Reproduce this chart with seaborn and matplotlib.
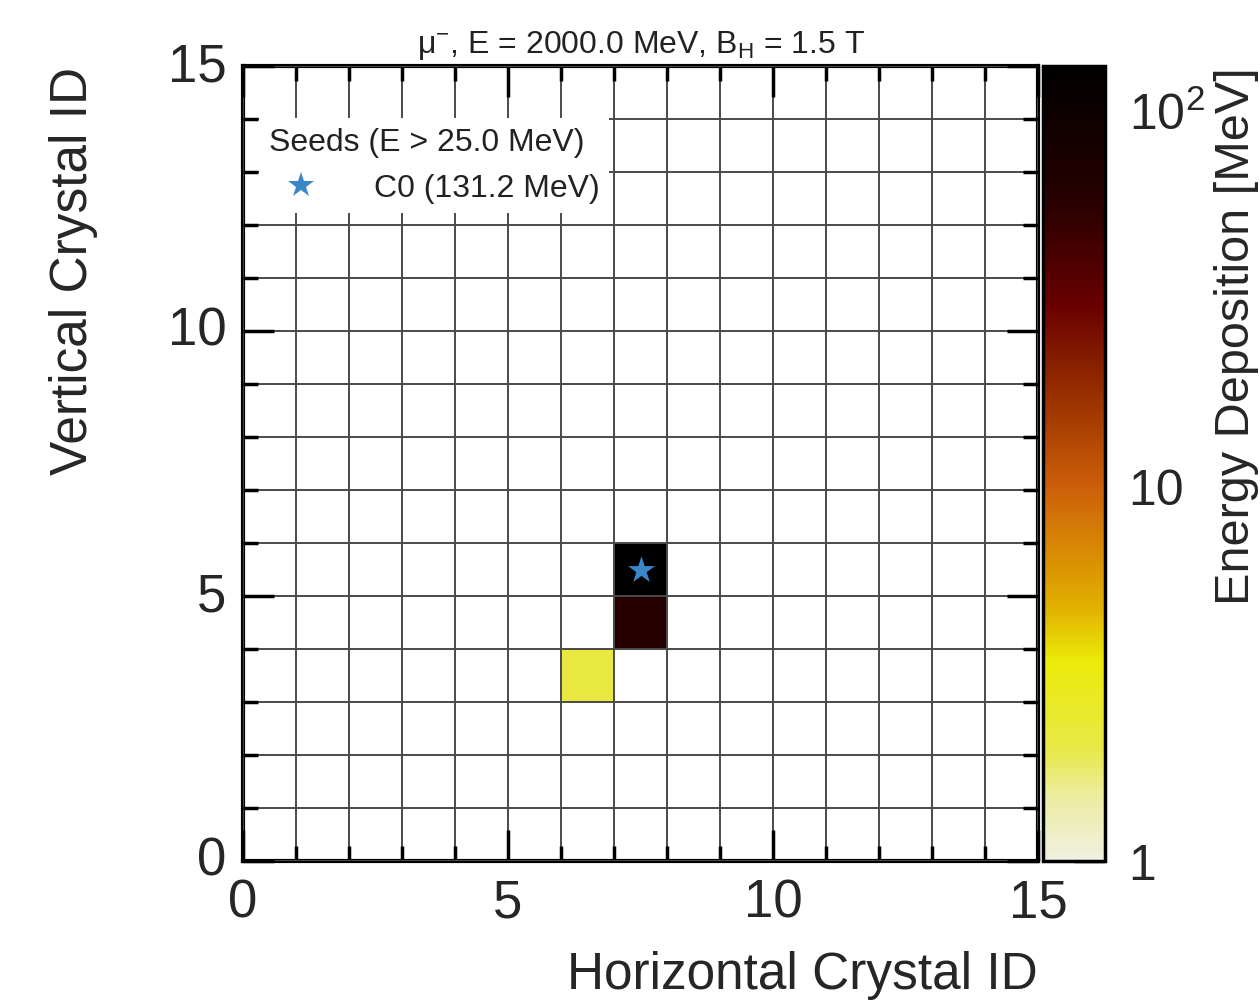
import numpy as np
import pandas as pd
import seaborn as sns
import matplotlib
matplotlib.use("Agg")
import matplotlib.pyplot as plt
from matplotlib.colors import LogNorm, LinearSegmentedColormap
from matplotlib.ticker import MultipleLocator, FixedLocator, FixedFormatter, FormatStrFormatter
from matplotlib.lines import Line2D

# ---- data ----
n_cols = 15
n_rows = 15
cell_x = [7, 7, 6]
cell_y = [5, 4, 3]
cell_energy = [131.2, 60.0, 2.1]
seed_x = [7.5]
seed_y = [5.5]
seed_labels = ["C0 (131.2 MeV)"]
title = r"μ$^{-}$, E = 2000.0 MeV, B$_{\mathrm{H}}$ = 1.5 T"
legend_title = "Seeds (E > 25.0 MeV)"
vmin, vmax = 1.0, 131.2

grid = np.full((n_rows, n_cols), np.nan)
for x, y, e in zip(cell_x, cell_y, cell_energy):
    grid[y, x] = e
df = pd.DataFrame(grid)

sns.set_theme(style="white")
plt.rcParams['font.family'] = ['Liberation Sans', 'DejaVu Sans']
plt.rcParams['mathtext.fontset'] = 'custom'
plt.rcParams['mathtext.rm'] = 'Liberation Sans'
plt.rcParams['mathtext.it'] = 'Liberation Sans:italic'
plt.rcParams['text.color'] = '#222222'

cmap = LinearSegmentedColormap.from_list("edep", [
    (0.00, (240/255, 240/255, 225/255)),
    (0.08, (236/255, 236/255, 160/255)),
    (0.14, (232/255, 232/255, 70/255)),
    (0.25, (235/255, 235/255, 10/255)),
    (0.32, (225/255, 175/255, 0/255)),
    (0.47, (205/255, 95/255, 10/255)),
    (0.58, (155/255, 50/255, 0/255)),
    (0.70, (105/255, 0/255, 0/255)),
    (0.83, (40/255, 0/255, 0/255)),
    (1.00, (0, 0, 0)),
])

fig = plt.figure(figsize=(12.6, 10.04), dpi=100)
ax = fig.add_axes([243/1260, 1 - 862/1004, 795/1260, 795/1004])
cax = fig.add_axes([1043/1260, 1 - 862/1004, 62/1260, 795/1004])

sns.heatmap(df, ax=ax, cmap=cmap, norm=LogNorm(vmin=vmin, vmax=vmax),
            cbar=True, cbar_ax=cax)

ax.set_xlim(0, n_cols)
ax.set_ylim(0, n_rows)

# grid
ax.set_axisbelow(False)
ax.xaxis.set_major_locator(MultipleLocator(5))
ax.yaxis.set_major_locator(MultipleLocator(5))
ax.xaxis.set_minor_locator(MultipleLocator(1))
ax.yaxis.set_minor_locator(MultipleLocator(1))
ax.xaxis.set_major_formatter(FormatStrFormatter('%d'))
ax.yaxis.set_major_formatter(FormatStrFormatter('%d'))
ax.grid(True, which='both', color='#4a4a4a', linewidth=1.4)
ax.tick_params(which='both', direction='in', top=True, right=True,
               bottom=True, left=True, width=2.5, color='black')
ax.tick_params(which='major', length=22, labelsize=38, pad=12)
ax.tick_params(which='minor', length=11)
plt.setp(ax.get_xticklabels(), rotation=0)
plt.setp(ax.get_yticklabels(), rotation=0)
for s in ax.spines.values():
    s.set_visible(True)
    s.set_linewidth(3)
    s.set_color('black')

# seeds
ax.scatter(seed_x, seed_y, marker='*', s=420, color='#3a86c8', zorder=5,
           linewidths=0)

# legend
handles = [Line2D([], [], marker='*', linestyle='none', markersize=19,
                  color='#3a86c8', markeredgewidth=0)]
leg = ax.legend(handles, seed_labels, title=legend_title, loc='upper left',
                bbox_to_anchor=(0.0, 0.955), fontsize=23, title_fontsize=23,
                frameon=True, fancybox=False, framealpha=1.0,
                edgecolor='white', handletextpad=1.3, borderpad=0.3)
leg.get_frame().set_linewidth(0)
leg._legend_box.align = "left"

ax.set_title(title, fontsize=23, pad=10)
ax.set_xlabel("Horizontal Crystal ID", fontsize=37, loc='right', labelpad=16)
ax.set_ylabel("Vertical Crystal ID", fontsize=37, loc='top', labelpad=50)

# colorbar
cb = ax.collections[0].colorbar
cb.outline.set_linewidth(2.5)
cb.outline.set_edgecolor('black')
cax.yaxis.set_ticks_position('right')
cax.yaxis.set_major_locator(FixedLocator([1, 10, 100]))
cax.yaxis.set_major_formatter(FixedFormatter(['1', '10', r'10$^{2}$']))
minor = [v * d for d in (1, 10) for v in range(2, 10)]
cax.yaxis.set_minor_locator(FixedLocator(minor))
cax.yaxis.set_minor_formatter(FixedFormatter([''] * len(minor)))
cax.tick_params(which='both', direction='in', width=2.5, color='black')
cax.tick_params(which='major', length=22, labelsize=36, pad=17)
cax.tick_params(which='minor', length=11)
cb.set_label("Energy Deposition [MeV]", fontsize=35, loc='top')
cax.yaxis.label.set_verticalalignment('center')
cax.yaxis.set_label_coords(3.12, 1.0)

fig.savefig("out.png", dpi=100, facecolor='white')
